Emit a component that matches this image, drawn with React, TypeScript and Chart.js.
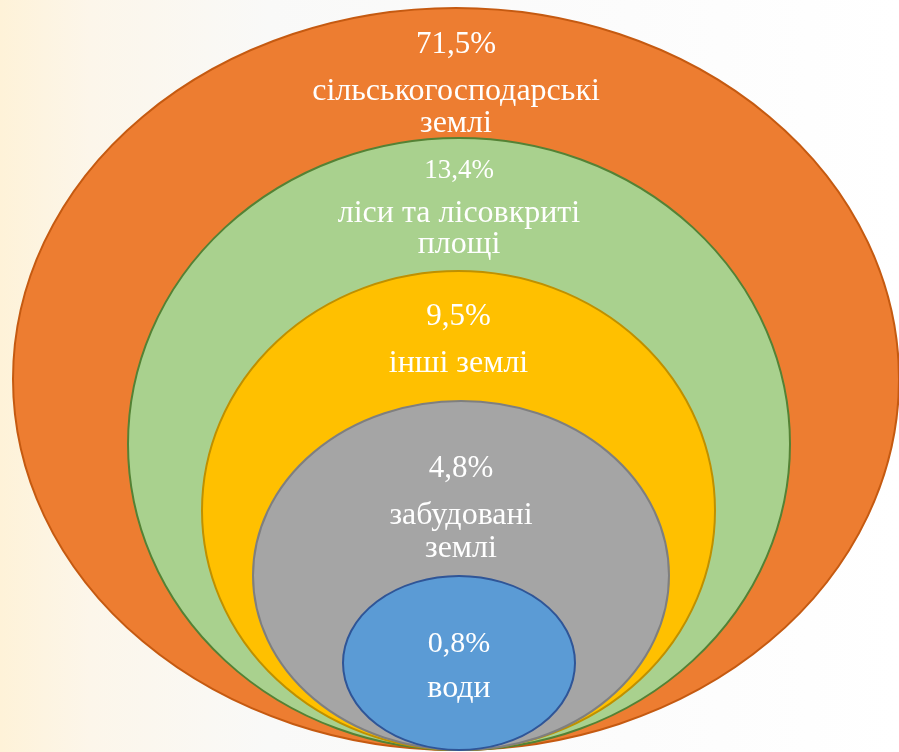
import React, { useEffect, useRef } from "react";
import { Chart, registerables } from "chart.js";

Chart.register(...registerables);

// ---- data ----
const categories = [
  "сільськогосподарські землі",
  "ліси та лісовкриті площі",
  "інші землі",
  "забудовані землі",
  "води",
];
const shares = [71.5, 13.4, 9.5, 4.8, 0.8];
// label lines as shown in the picture
const labelLines = [
  ["сільськогосподарські", "землі"],
  ["ліси та лісовкриті", "площі"],
  ["інші землі"],
  ["забудовані", "землі"],
  ["води"],
];
// ellipse sizes (in chart units)
const ellipseWidths = [886, 662, 513, 416, 232];
const ellipseHeights = [742, 612, 479, 349, 174];
const ellipseCentersX = [456, 459, 458.5, 461, 459];
const ellipseBase = 2;

// ---- styles ----
const fills = ["#ED7D31", "#A9D18E", "#FFC000", "#A5A5A5", "#5B9BD5"];
const strokes = ["#C55A11", "#548235", "#BF9000", "#7F7F7F", "#2F5597"];
const pctFontSizes = [31, 27, 31, 31, 30];
const labelFontSizes = [32, 32, 32, 32, 32];
const firstBaselineOffset = [45, 40, 54, 76, 76];
const pctGap = [47, 44, 47, 47, 45];
const lineGap = [32, 31, 32, 33, 32];

const fmt = (v: number) => v.toFixed(1).replace(".", ",") + "%";

const bgPlugin = {
  id: "bg",
  beforeDraw(chart: any) {
    const { ctx, width, height } = chart;
    ctx.save();
    const g = ctx.createLinearGradient(0, 0, width, 0);
    g.addColorStop(0, "#FEF2D8");
    g.addColorStop(0.1, "#FCF6EA");
    g.addColorStop(0.3, "#F9F9F8");
    g.addColorStop(0.7, "#FCFCFC");
    g.addColorStop(1, "#FFFFFF");
    ctx.fillStyle = g;
    ctx.fillRect(0, 0, width, height);
    ctx.restore();
  },
};

const FONT = `"Liberation Serif", "Times New Roman", serif`;

const ellipsePlugin = {
  id: "ellipses",
  afterDatasetsDraw(chart: any) {
    const { ctx } = chart;
    const xs = chart.scales.x;
    const ys = chart.scales.y;
    chart.data.datasets.forEach((ds: any) => {
      const p = ds.data[0];
      const cx = xs.getPixelForValue(p.x);
      const cy = ys.getPixelForValue(p.y);
      const rx = Math.abs(xs.getPixelForValue(p.x + p.w / 2) - cx);
      const ry = Math.abs(ys.getPixelForValue(p.y + p.h / 2) - cy);
      ctx.save();
      ctx.beginPath();
      ctx.ellipse(cx, cy, rx, ry, 0, 0, Math.PI * 2);
      ctx.fillStyle = ds.backgroundColor;
      ctx.fill();
      ctx.lineWidth = 2;
      ctx.strokeStyle = ds.borderColor;
      ctx.stroke();
      ctx.restore();
    });
    chart.data.datasets.forEach((ds: any, i: number) => {
      const p = ds.data[0];
      const cx = xs.getPixelForValue(p.x);
      const top = ys.getPixelForValue(p.y + p.h / 2);
      ctx.save();
      ctx.fillStyle = "#FFFFFF";
      ctx.textAlign = "center";
      ctx.textBaseline = "alphabetic";
      ctx.font = `${pctFontSizes[i]}px ${FONT}`;
      let y = top + firstBaselineOffset[i];
      ctx.fillText(fmt(shares[i]), cx, y);
      y += pctGap[i];
      ctx.font = `${labelFontSizes[i]}px ${FONT}`;
      labelLines[i].forEach((line, k) => {
        if (k > 0) y += lineGap[i];
        ctx.fillText(line, cx, y);
      });
      ctx.restore();
    });
  },
};

export default function App() {
  const ref = useRef<HTMLCanvasElement | null>(null);
  useEffect(() => {
    if (!ref.current) return;
    const chart = new Chart(ref.current, {
      type: "scatter",
      data: {
        datasets: categories.map((c, i) => ({
          label: c,
          data: [
            {
              x: ellipseCentersX[i],
              y: ellipseBase + ellipseHeights[i] / 2,
              w: ellipseWidths[i],
              h: ellipseHeights[i],
            } as any,
          ],
          backgroundColor: fills[i],
          borderColor: strokes[i],
          pointRadius: 0,
          pointHoverRadius: 0,
        })),
      },
      options: {
        responsive: false,
        animation: false,
        events: [],
        layout: { padding: 0 },
        plugins: {
          legend: { display: false },
          tooltip: { enabled: false },
          title: { display: false },
        },
        scales: {
          x: { type: "linear", min: 0, max: 899, display: false },
          y: { type: "linear", min: 0, max: 752, display: false },
        },
      },
      plugins: [bgPlugin, ellipsePlugin],
    });
    return () => chart.destroy();
  }, []);
  return (
    <div style={{ position: "fixed", left: 0, top: 0, width: 899, height: 752 }}>
      <canvas ref={ref} width={899} height={752} style={{ width: 899, height: 752 }} />
    </div>
  );
}
